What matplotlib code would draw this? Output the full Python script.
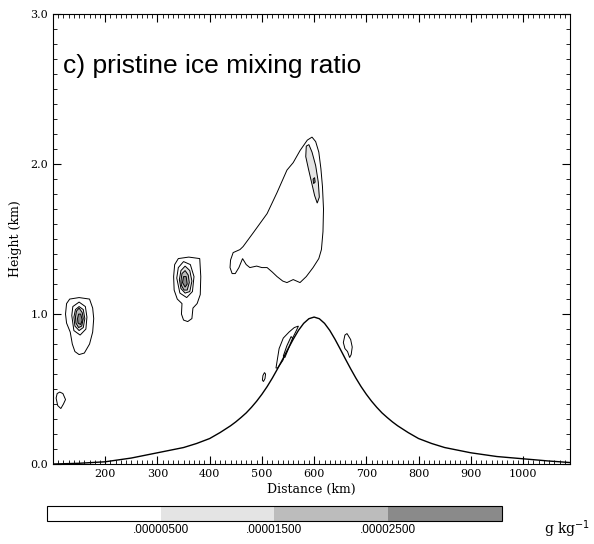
import numpy as np
import matplotlib
matplotlib.use("Agg")
import matplotlib.pyplot as plt
from matplotlib.colors import ListedColormap, BoundaryNorm
from matplotlib.cm import ScalarMappable
from matplotlib.patches import Polygon
from matplotlib.ticker import MultipleLocator

# terrain (km)
terrain_x = [100, 150, 200, 250, 300, 350, 375, 400, 420, 440, 450, 460, 470, 480, 490, 500, 510,
             520, 530, 540, 550, 560, 570, 580, 590, 600, 610, 620, 630, 640, 650, 660, 670, 680,
             690, 700, 710, 720, 730, 740, 750, 760, 780, 800, 825, 850, 900, 950, 1000, 1050, 1090]
terrain_z = [0.0, 0.005, 0.015, 0.04, 0.075, 0.11, 0.137, 0.17, 0.21, 0.255, 0.281, 0.31, 0.341,
             0.378, 0.419, 0.465, 0.516, 0.573, 0.635, 0.70, 0.767, 0.832, 0.891, 0.938, 0.969,
             0.98, 0.969, 0.938, 0.891, 0.832, 0.767, 0.70, 0.635, 0.573, 0.516, 0.465, 0.419,
             0.378, 0.341, 0.31, 0.281, 0.255, 0.21, 0.17, 0.137, 0.11, 0.075, 0.05, 0.035, 0.02,
             0.01]

# contour outlines (x km, z km) and shading class: 0 none, 1 light, 2 medium, 3 dark
cloud = [(458, 1.43), (445, 1.41), (440, 1.36), (439, 1.31), (443, 1.27), (449, 1.27), (456, 1.31),
         (463, 1.37), (470, 1.33), (477, 1.31), (490, 1.32), (500, 1.31), (510, 1.31), (520, 1.28),
         (529, 1.25), (540, 1.22), (548, 1.21), (560, 1.23), (573, 1.21), (585, 1.25), (598, 1.31),
         (609, 1.37), (614, 1.43), (617, 1.55), (618, 1.70), (616, 1.85), (613, 1.97), (609, 2.08),
         (603, 2.15), (596, 2.18), (587, 2.16), (573, 2.09), (560, 2.01), (548, 1.96), (529, 1.81),
         (510, 1.67), (483, 1.54), (464, 1.45)]
cloud_core = [(585, 2.12), (590, 2.13), (596, 2.08), (603, 1.99), (608, 1.88), (610, 1.78),
              (606, 1.74), (601, 1.79), (595, 1.88), (589, 1.97), (584, 2.05)]
cloud_dot = [(598, 1.90), (601, 1.91), (602, 1.88), (599, 1.87)]

left_rings = [
    [(124, 1.00), (126, 1.07), (132, 1.10), (150, 1.11), (170, 1.10), (176, 1.04), (178, 0.97),
     (176, 0.88), (170, 0.80), (160, 0.74), (150, 0.73), (142, 0.75), (137, 0.80), (133, 0.88),
     (126, 0.94)],
    [(136, 0.99), (138, 1.05), (150, 1.08), (162, 1.05), (165, 0.98), (163, 0.90), (152, 0.86), (140, 0.89)],
    [(140, 0.98), (143, 1.03), (150, 1.05), (158, 1.03), (161, 0.97), (158, 0.91), (150, 0.89), (142, 0.92)],
    [(143, 0.98), (145, 1.02), (150, 1.04), (156, 1.01), (158, 0.97), (155, 0.92), (149, 0.91), (144, 0.94)],
    [(147, 0.97), (149, 1.00), (153, 1.00), (156, 0.96), (153, 0.93), (148, 0.94)],
]
left_shade = [0, 0, 1, 2, 3]

mid_rings = [
    [(331, 1.25), (333, 1.33), (340, 1.37), (360, 1.38), (381, 1.37), (383, 1.25), (382, 1.13),
     (376, 1.07), (368, 1.04), (366, 0.97), (358, 0.95), (350, 0.96), (346, 1.00), (347, 1.07),
     (338, 1.10), (332, 1.16)],
    [(337, 1.24), (340, 1.31), (350, 1.35), (363, 1.33), (370, 1.25), (367, 1.15), (356, 1.11), (343, 1.14)],
    [(342, 1.23), (345, 1.29), (353, 1.32), (362, 1.29), (366, 1.22), (362, 1.15), (353, 1.14), (345, 1.17)],
    [(345, 1.22), (347, 1.27), (353, 1.29), (359, 1.26), (361, 1.21), (357, 1.16), (351, 1.16), (346, 1.19)],
    [(348, 1.21), (350, 1.25), (355, 1.25), (357, 1.20), (353, 1.18)],
]
mid_shade = [0, 0, 1, 2, 3]

small_blobs = [
    [(106, 0.44), (108, 0.47), (113, 0.48), (119, 0.47), (124, 0.43), (120, 0.40), (115, 0.37), (109, 0.39)],
    [(501, 0.56), (502, 0.59), (505, 0.61), (507, 0.60), (506, 0.57), (503, 0.55)],
    [(656, 0.81), (659, 0.86), (663, 0.87), (670, 0.83), (673, 0.78), (671, 0.73), (668, 0.71),
     (664, 0.75), (659, 0.77)],
    [(527, 0.64), (533, 0.77), (541, 0.84), (552, 0.88), (562, 0.91), (570, 0.92), (566, 0.89),
     (556, 0.82), (548, 0.76), (540, 0.69), (530, 0.64)],
]
slope_core = [(541, 0.72), (548, 0.79), (556, 0.85), (559, 0.84), (551, 0.77), (544, 0.71)]

bounds = [0, 0.000005, 0.000015, 0.000025, 0.000035]
cbar_labels = [".00000500", ".00001500", ".00002500"]
shade_colors = ["white", "#e4e4e4", "#bcbcbc", "#8a8a8a"]

fig = plt.figure(figsize=(5.94, 5.44), dpi=100)
ax = fig.add_axes([0.0892, 0.147, 0.8704, 0.827])


def draw(pts, shade):
    ax.add_patch(Polygon(pts, closed=True, facecolor=shade_colors[shade],
                         edgecolor="black", lw=0.7, zorder=2))


draw(cloud, 0)
draw(cloud_core, 1)
draw(cloud_dot, 3)
for pts, s in zip(left_rings, left_shade):
    draw(pts, s)
for pts, s in zip(mid_rings, mid_shade):
    draw(pts, s)
for pts in small_blobs:
    draw(pts, 0)
draw(slope_core, 1)

ax.plot(terrain_x, terrain_z, color="black", lw=1.0, zorder=3)

ax.set_xlim(100, 1090)
ax.set_ylim(0, 3)
ax.set_xticks([200, 300, 400, 500, 600, 700, 800, 900, 1000])
ax.set_yticks([0, 1, 2, 3])
ax.set_yticklabels(["0.0", "1.0", "2.0", "3.0"])
ax.xaxis.set_minor_locator(MultipleLocator(10))
ax.yaxis.set_minor_locator(MultipleLocator(0.1))
ax.tick_params(which="both", direction="in", top=True, right=True, labelsize=8)
ax.tick_params(which="major", length=6, width=0.8)
ax.tick_params(which="minor", length=3, width=0.6)
for lab in ax.get_xticklabels() + ax.get_yticklabels():
    lab.set_family("DejaVu Serif")
ax.set_xlabel("Distance (km)", family="DejaVu Serif", fontsize=9, labelpad=3)
ax.set_ylabel("Height (km)", family="DejaVu Serif", fontsize=9, labelpad=6)
ax.text(0.02, 0.869, "c) pristine ice mixing ratio", transform=ax.transAxes,
        family="Liberation Sans", fontsize=19, ha="left", va="baseline")

# colour bar
cax = fig.add_axes([0.0791, 0.0423, 0.766, 0.0276])
cmap = ListedColormap(shade_colors)
norm = BoundaryNorm(bounds, cmap.N)
cb = fig.colorbar(ScalarMappable(norm=norm, cmap=cmap), cax=cax, orientation="horizontal",
                  spacing="uniform", ticks=bounds[1:4])
cb.ax.minorticks_off()
cb.ax.set_xticklabels(cbar_labels, family="Liberation Sans", fontsize=8.5)
cb.ax.tick_params(length=0, pad=2)
cb.outline.set_linewidth(0.8)
fig.text(0.993, 0.018, "g kg$^{-1}$", family="DejaVu Serif", fontsize=10, ha="right")

plt.savefig("out.png", dpi=100)
